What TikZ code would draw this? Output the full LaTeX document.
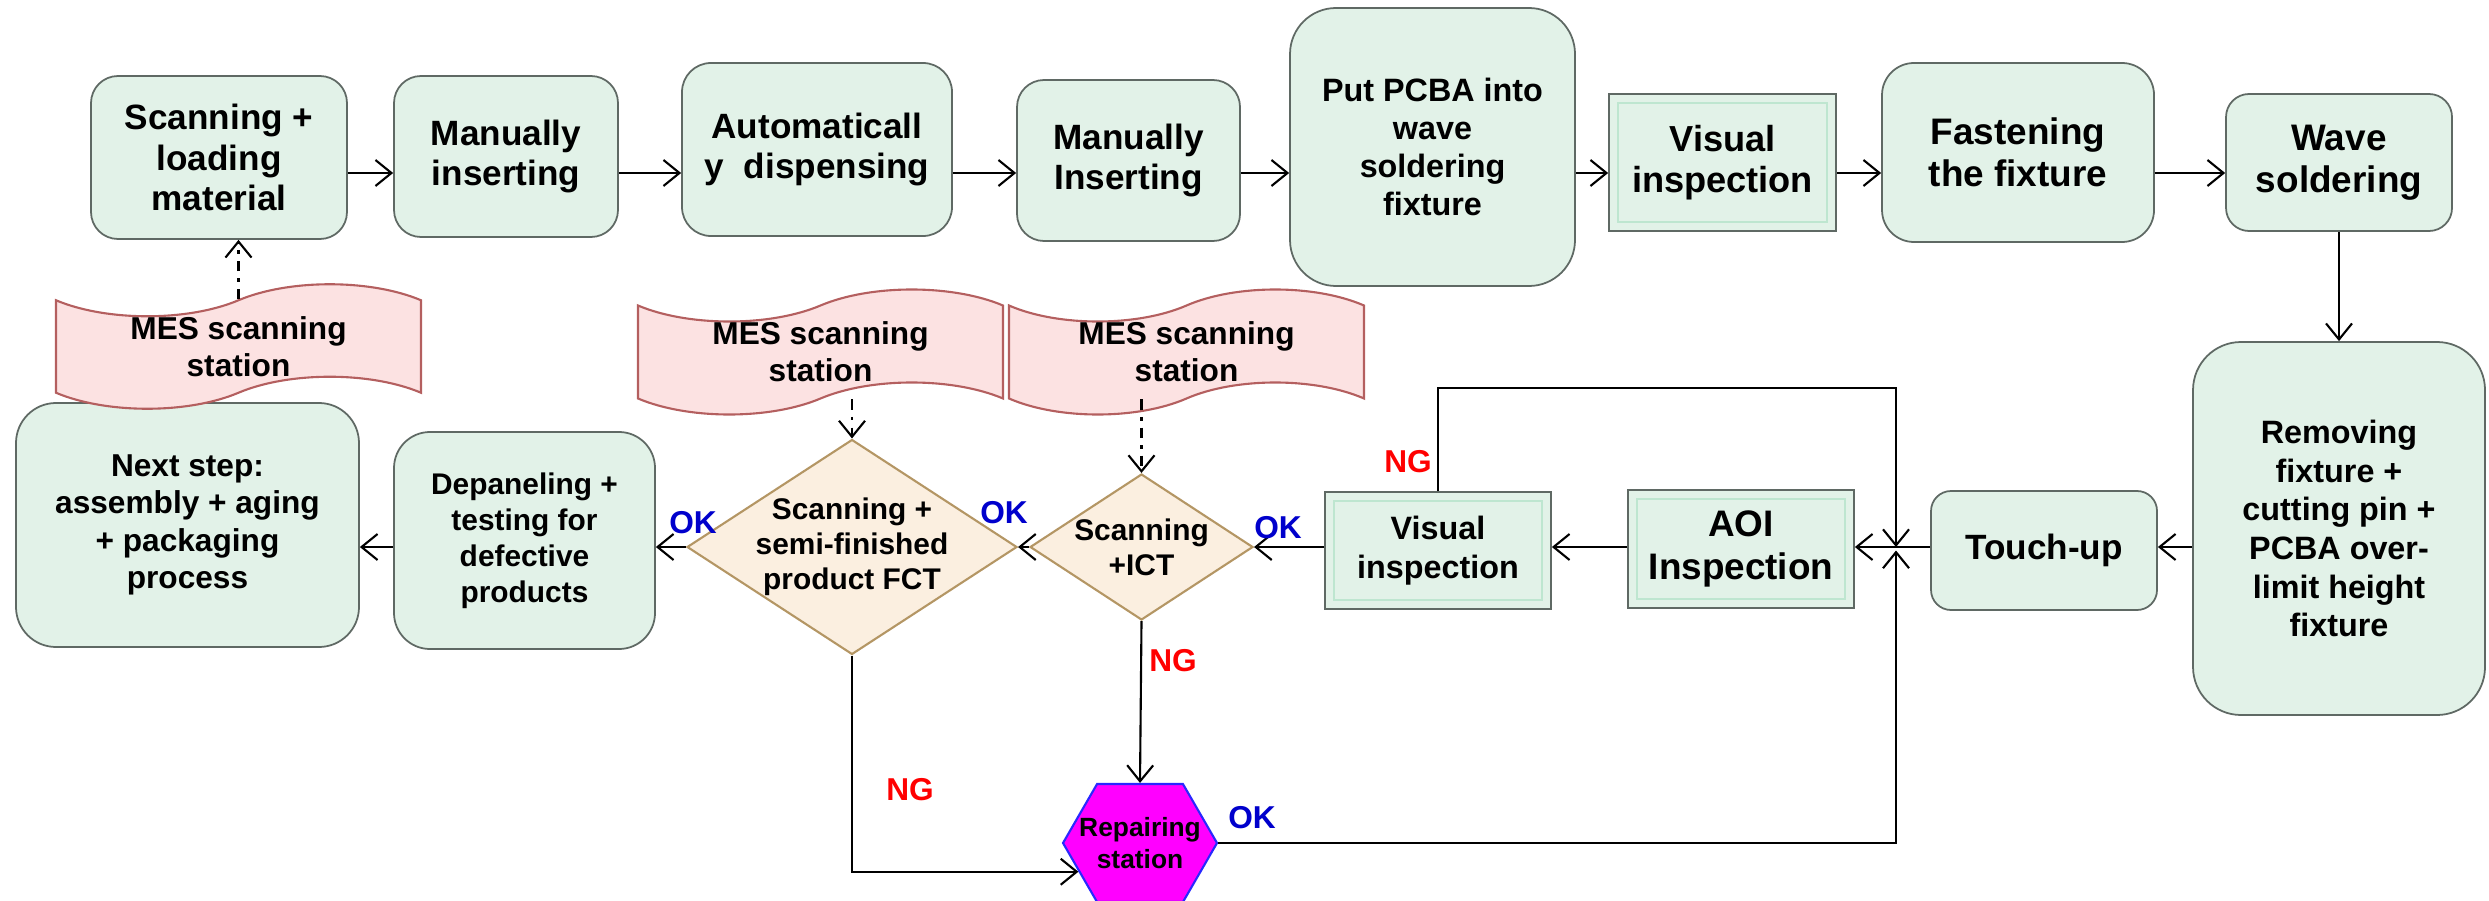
\documentclass[tikz,border=0pt]{standalone}
\usepackage{fontspec}
\setmainfont{Liberation Sans}
\usepackage{tikz}
\usetikzlibrary{positioning,arrows.meta,shapes.geometric,shapes.symbols}

\definecolor{boxfill}{RGB}{226,242,232}
\definecolor{boxline}{RGB}{95,105,100}
\definecolor{bevelline}{RGB}{190,230,208}
\definecolor{mesfill}{RGB}{252,226,226}
\definecolor{mesline}{RGB}{180,95,95}
\definecolor{decfill}{RGB}{251,239,224}
\definecolor{decline}{RGB}{180,150,100}
\definecolor{okblue}{RGB}{0,0,204}
\definecolor{ngred}{RGB}{255,0,0}
\definecolor{repairfill}{RGB}{255,0,255}
\definecolor{repairline}{RGB}{40,40,255}

\newcommand{\fsz}[2]{\fontsize{#1}{#2}\selectfont\bfseries}

\tikzset{
  stepbox/.style={draw=boxline, fill=boxfill, line width=0.5pt,
    rounded corners=#1, align=center, inner sep=0pt},
  stepbox/.default=0.27cm,
  bevelbox/.style={draw=boxline, fill=boxfill, line width=0.5pt,
    align=center, inner sep=0pt,
    path picture={\draw[bevelline, line width=0.5pt]
      ([shift={(2.5pt,2.5pt)}]path picture bounding box.south west) rectangle
      ([shift={(-2.5pt,-2.5pt)}]path picture bounding box.north east);}},
  decision/.style={diamond, draw=decline, fill=decfill, line width=0.6pt,
    inner sep=0pt},
  messtation/.style={tape, draw=mesline, fill=mesfill, line width=0.6pt,
    tape bend height=0.32cm, align=center, inner sep=0pt},
  repairst/.style={signal, signal to=east and west, signal pointer angle=120,
    fill=repairfill, draw=repairline, line width=0.6pt, inner sep=0pt},
  flow/.style={-{Straight Barb[length=1.6mm,width=2.6mm]}, line width=0.6pt},
  scanlink/.style={flow, dash pattern=on 3pt off 2pt on 1pt off 2pt},
  oklabel/.style={text=okblue, font=\fsz{9}{10}},
  nglabel/.style={text=ngred, font=\fsz{9}{10}}
}

\begin{document}
\begin{tikzpicture}
  \useasboundingbox (0,0) rectangle (24.89,9);
  % Top row of steps
  \node[stepbox, minimum width=2.56cm, minimum height=1.63cm, font=\fsz{10}{11.5}]
    (scanload) at (2.19,7.425) {Scanning +\\loading\\material};
  \node[stepbox, minimum width=2.24cm, minimum height=1.61cm, font=\fsz{10}{11.5}]
    (maninsert) at (5.06,7.435) {Manually\\inserting};
  \node[stepbox=0.29cm, minimum width=2.70cm, minimum height=1.73cm, font=\fsz{10}{11.5}]
    (autodisp) at (8.17,7.505) {Automaticall\\y\ \ dispensing};
  \node[stepbox, minimum width=2.23cm, minimum height=1.61cm, font=\fsz{10}{11.5}]
    (maninsertb) at (11.285,7.395) {Manually\\Inserting};
  \node[stepbox=0.46cm, minimum width=2.85cm, minimum height=2.78cm, font=\fsz{9.2}{10.8}]
    (putpcba) at (14.325,7.53) {Put PCBA into\\wave\\soldering\\fixture};
  \node[bevelbox, minimum width=2.27cm, minimum height=1.37cm, font=\fsz{10.3}{11.8}]
    (visinspa) at (17.225,7.375) {Visual\\inspection};
  \node[stepbox=0.32cm, minimum width=2.72cm, minimum height=1.79cm, font=\fsz{10.5}{12}]
    (fasten) at (20.18,7.475) {Fastening\\the fixture};
  \node[stepbox=0.23cm, minimum width=2.26cm, minimum height=1.37cm, font=\fsz{10.5}{12}]
    (wave) at (23.39,7.375) {Wave\\soldering};
  % Right column and lower row
  \node[stepbox=0.48cm, minimum width=2.92cm, minimum height=3.73cm, font=\fsz{9.2}{11}]
    (removing) at (23.39,3.715)
    {Removing\\fixture +\\cutting pin +\\PCBA over-\\limit height\\fixture};
  \node[stepbox=0.2cm, minimum width=2.26cm, minimum height=1.19cm, font=\fsz{10}{11.5}]
    (touchup) at (20.44,3.495) {Touch-up};
  \node[bevelbox, minimum width=2.26cm, minimum height=1.18cm, font=\fsz{10.5}{12}]
    (aoi) at (17.41,3.51) {AOI\\Inspection};
  \node[bevelbox, minimum width=2.26cm, minimum height=1.17cm, font=\fsz{9.2}{11}]
    (visinspb) at (14.38,3.495) {Visual\\inspection};
  \node[decision, minimum width=2.23cm, minimum height=1.46cm,
    label={[font=\fsz{8.5}{10}, align=center]center:Scanning\\+ICT}]
    (ict) at (11.415,3.53) {};
  \node[decision, minimum width=3.30cm, minimum height=2.15cm,
    label={[font=\fsz{8.5}{10}, align=center]center:Scanning +\\semi-finished\\product FCT}]
    (fct) at (8.52,3.53) {};
  \node[stepbox=0.36cm, minimum width=2.61cm, minimum height=2.17cm, font=\fsz{8.5}{10.2}]
    (depanel) at (5.245,3.595) {Depaneling +\\testing for\\defective\\products};
  \node[stepbox=0.4cm, minimum width=3.43cm, minimum height=2.44cm, font=\fsz{9}{10.6}]
    (nextstep) at (1.875,3.75) {Next step:\\assembly + aging\\+ packaging\\process};
  % MES scanning stations
  \node[messtation, minimum width=3.65cm, minimum height=1.17cm, font=\fsz{9}{10.6}]
    (mesa) at (2.385,5.535) {MES scanning\\station};
  \node[messtation, minimum width=3.65cm, minimum height=1.25cm, font=\fsz{9}{10.6}]
    (mesb) at (8.205,5.48) {MES scanning\\station};
  \node[messtation, minimum width=3.55cm, minimum height=1.25cm, font=\fsz{9}{10.6}]
    (mesc) at (11.865,5.48) {MES scanning\\station};
  % Repairing station
  \node[repairst, minimum width=1.54cm, minimum height=1.18cm,
    label={[font=\fsz{7.5}{9}, align=center]center:Repairing\\station}]
    (repair) at (11.40,0.57) {};

  % Top row flow
  \coordinate (toprow) at (0,7.27);
  \draw[flow] (scanload.east |- toprow) -- (maninsert.west |- toprow);
  \draw[flow] (maninsert.east |- toprow) -- (autodisp.west |- toprow);
  \draw[flow] (autodisp.east |- toprow) -- (maninsertb.west |- toprow);
  \draw[flow] (maninsertb.east |- toprow) -- (putpcba.west |- toprow);
  \draw[flow] (putpcba.east |- toprow) -- (visinspa.west |- toprow);
  \draw[flow] (visinspa.east |- toprow) -- (fasten.west |- toprow);
  \draw[flow] (fasten.east |- toprow) -- (wave.west |- toprow);
  \draw[flow] (wave.south) -- (removing.north);
  % Lower row flow
  \coordinate (lowrow) at (0,3.53);
  \coordinate (junc) at (18.96,3.53);
  \coordinate (looptop) at (0,5.12);
  \draw[flow] (removing.west |- lowrow) -- (touchup.east |- lowrow);
  \draw[flow] (touchup.west |- lowrow) -- (aoi.east |- lowrow);
  \draw[flow] (aoi.west |- lowrow) -- (visinspb.east |- lowrow);
  \draw[flow] (visinspb.west |- lowrow) -- (ict.east);
  \draw[flow] (ict.west) -- (fct.east);
  \draw[flow] (fct.west) -- (depanel.east |- fct.west);
  \draw[flow] (depanel.west |- lowrow) -- (nextstep.east |- lowrow);
  % Rework loops
  \draw[flow] (visinspb.north) -- (visinspb.north |- looptop) -| (junc);
  \draw[flow, shorten >=1pt] (repair.east) -| (junc);
  \draw[flow] (ict.south) -- (repair.north);
  \draw[flow] (fct.south) |- (repair.-155);
  % MES links
  \draw[scanlink] (mesa.north) -- (mesa.north |- scanload.south);
  \draw[scanlink] (fct.north |- mesb.south) -- (fct.north);
  \draw[scanlink] (ict.north |- mesc.south) -- (ict.north);
  % OK / NG labels
  \node[nglabel] (ngloop) at (14.08,4.38) {NG};
  \node[oklabel] (okict) at (12.78,3.72) {OK};
  \node[oklabel] (okfctr) at (10.04,3.87) {OK};
  \node[oklabel] (okfctl) at (6.93,3.77) {OK};
  \node[nglabel] (ngict) at (11.73,2.39) {NG};
  \node[nglabel] (ngfct) at (9.10,1.10) {NG};
  \node[oklabel] (okrep) at (12.52,0.82) {OK};
\end{tikzpicture}
\end{document}
